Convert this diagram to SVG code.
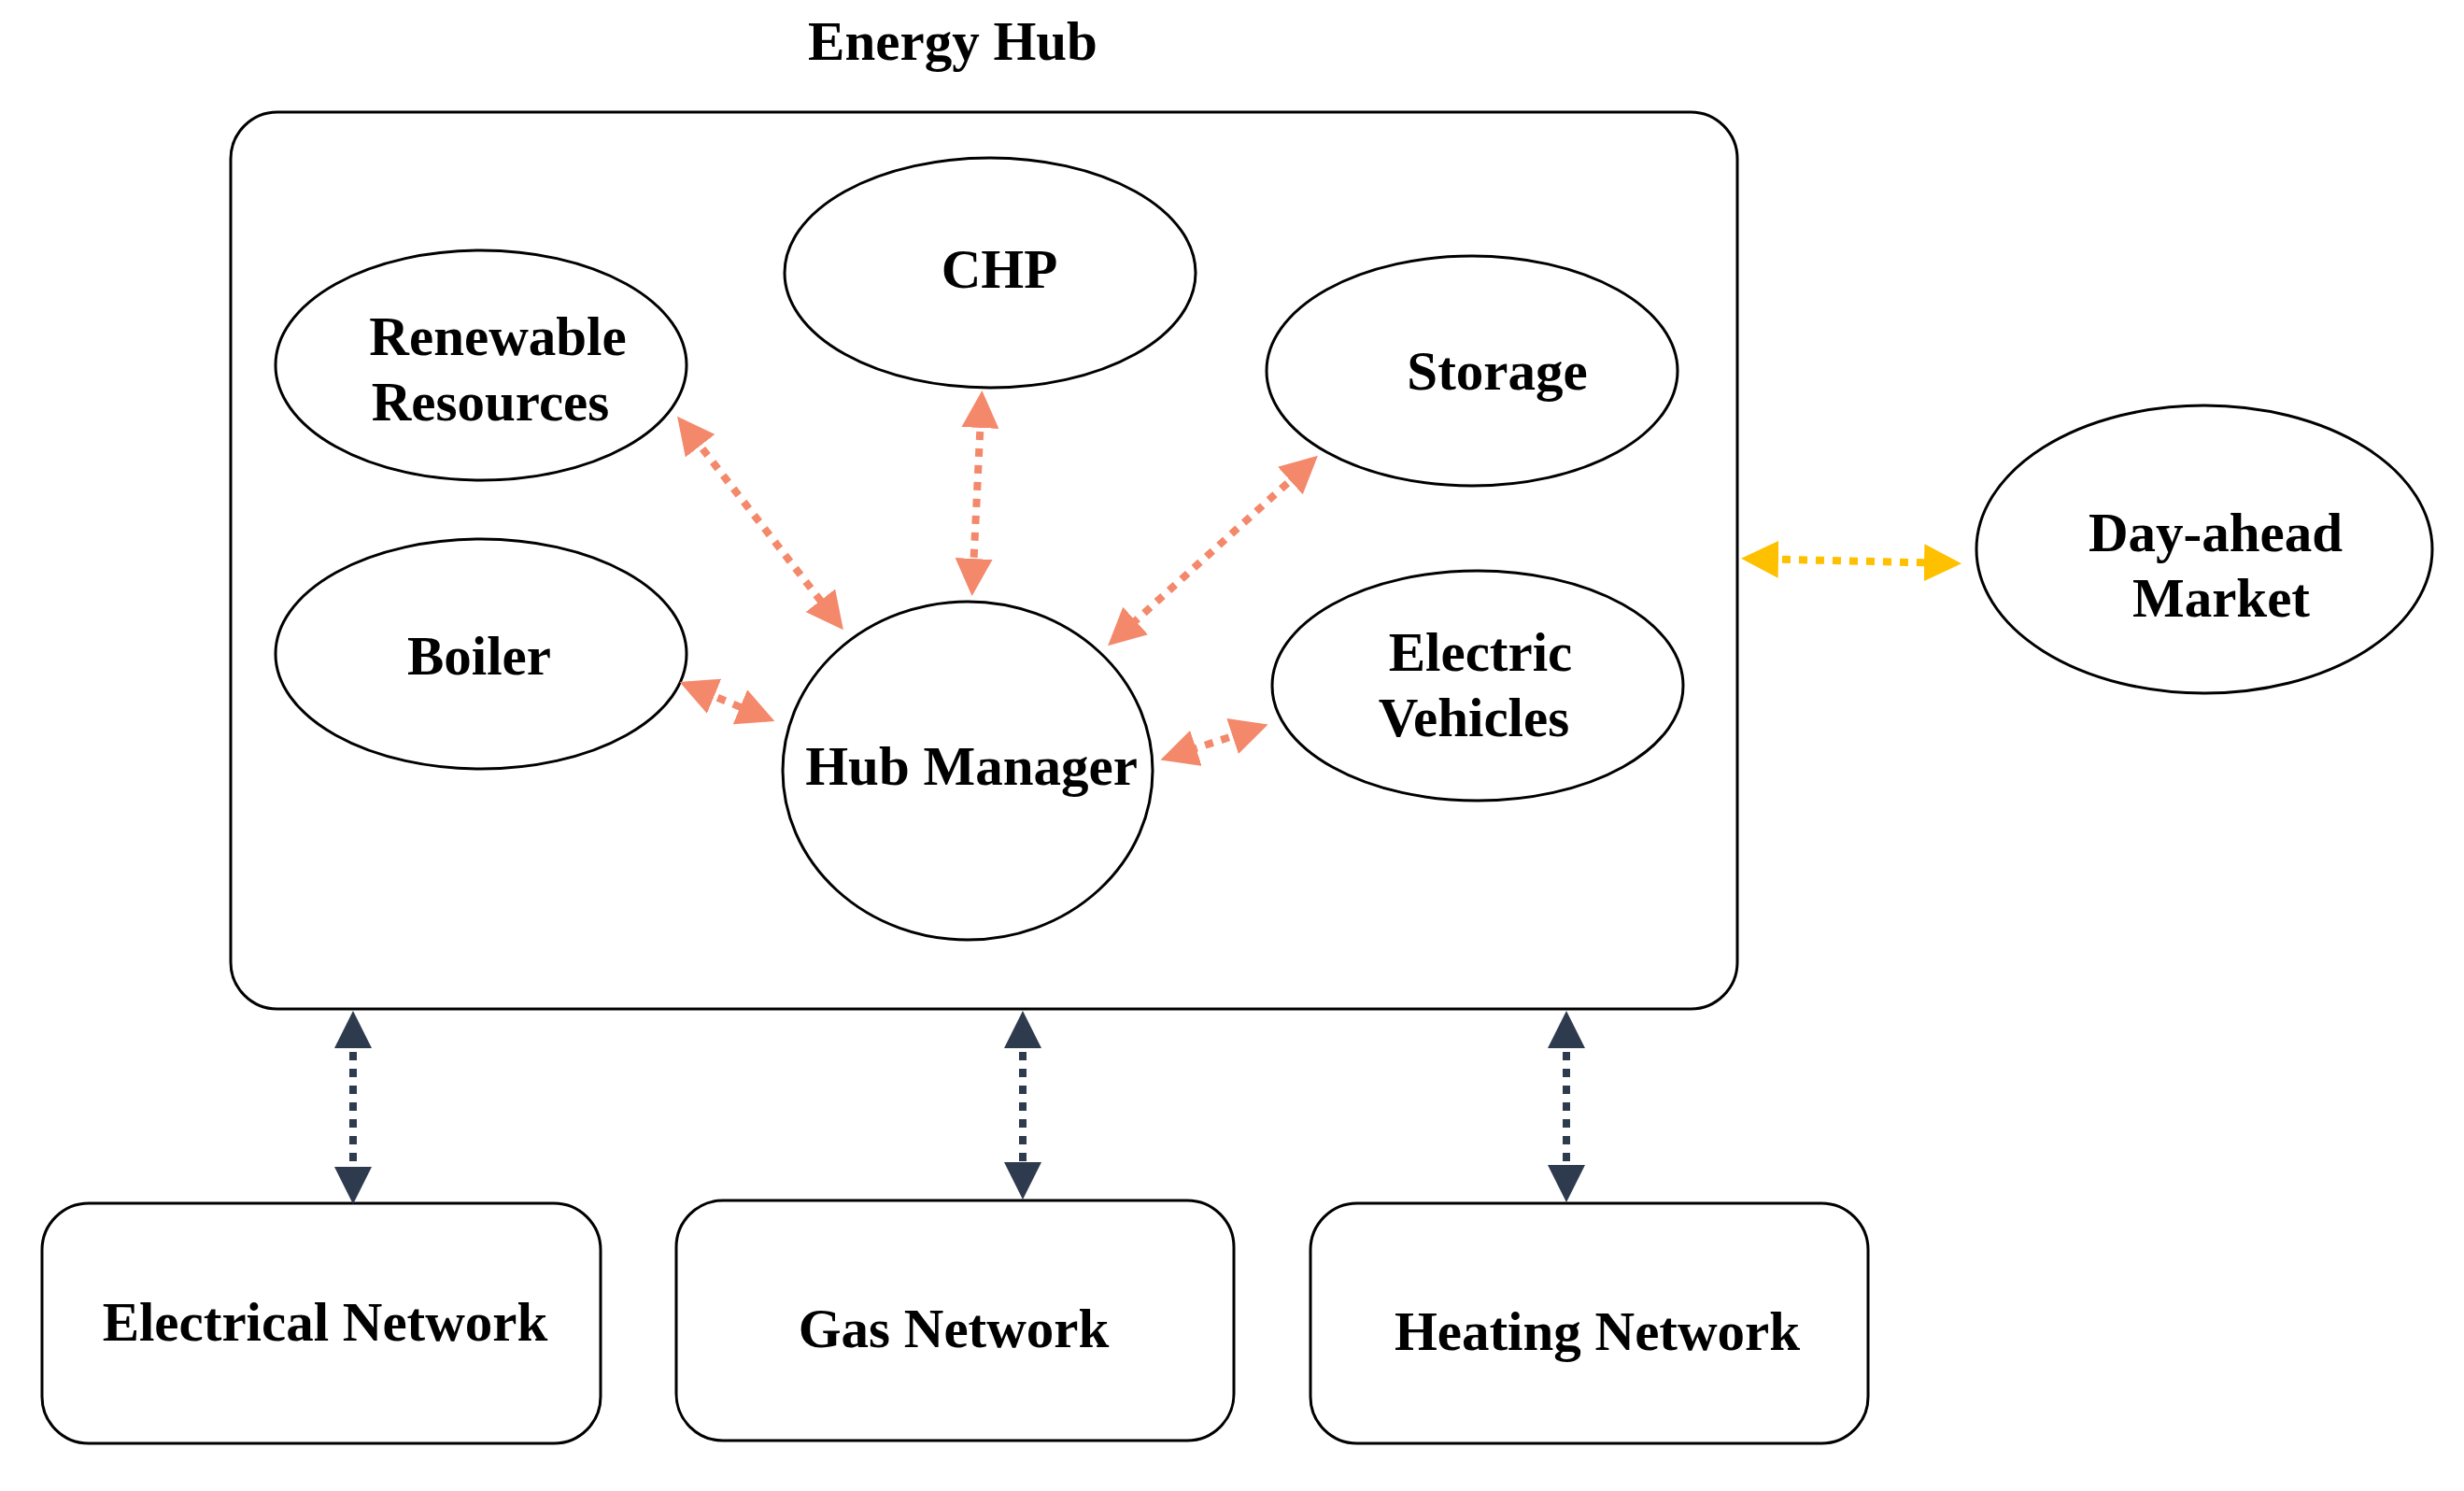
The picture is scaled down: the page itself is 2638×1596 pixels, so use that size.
<svg xmlns="http://www.w3.org/2000/svg" width="2638" height="1596" viewBox="0 0 2638 1596">
<style>
.n{fill:#fff;stroke:#000;stroke-width:3}
text{font-family:"Liberation Serif",serif;font-weight:bold;font-size:59px;fill:#000;text-anchor:middle}
.o{stroke:#f4886a;stroke-width:8;stroke-dasharray:9 9;fill:none}
.y{stroke:#ffc000;stroke-width:8;stroke-dasharray:9 9;fill:none}
.d{stroke:#2e3a4e;stroke-width:8;stroke-dasharray:9 9;fill:none}
</style>
<defs>
<marker id="mo" markerWidth="5" markerHeight="5" refX="4" refY="2.5" orient="auto-start-reverse"><path d="M0,0L5,2.5L0,5z" fill="#f4886a"/></marker>
<marker id="my" markerWidth="5" markerHeight="5" refX="4" refY="2.5" orient="auto-start-reverse"><path d="M0,0L5,2.5L0,5z" fill="#ffc000"/></marker>
<marker id="md" markerWidth="5" markerHeight="5" refX="4" refY="2.5" orient="auto-start-reverse"><path d="M0,0L5,2.5L0,5z" fill="#2e3a4e"/></marker>
</defs>
<text x="1020" y="64">Energy Hub</text>
<g id="hub"><rect class="n" x="247" y="120" width="1613" height="960" rx="50"/></g>
<g id="chp"><ellipse class="n" cx="1060" cy="292" rx="220" ry="123"/><text x="1070" y="308">CHP</text></g>
<g id="renewable"><ellipse class="n" cx="515" cy="391" rx="220" ry="123"/><text x="533" y="380">Renewable</text><text x="525" y="450">Resources</text></g>
<g id="boiler"><ellipse class="n" cx="515" cy="700" rx="220" ry="123"/><text x="513" y="722">Boiler</text></g>
<g id="storage"><ellipse class="n" cx="1576" cy="397" rx="220" ry="123"/><text x="1603" y="417">Storage</text></g>
<g id="ev"><ellipse class="n" cx="1582" cy="734" rx="220" ry="123"/><text x="1585" y="718">Electric</text><text x="1578" y="788">Vehicles</text></g>
<g id="manager"><ellipse class="n" cx="1036" cy="825" rx="198" ry="181"/><text x="1040" y="840">Hub Manager</text></g>
<g id="market"><ellipse class="n" cx="2360" cy="588" rx="244" ry="154"/><text x="2372" y="590">Day-ahead</text><text x="2378" y="660">Market</text></g>
<g id="electrical"><rect class="n" x="45" y="1288" width="598" height="257" rx="50"/><text x="348" y="1435">Electrical Network</text></g>
<g id="gas"><rect class="n" x="724" y="1285" width="597" height="257" rx="50"/><text x="1021" y="1442">Gas Network</text></g>
<g id="heating"><rect class="n" x="1403" y="1288" width="597" height="257" rx="50"/><text x="1710" y="1445">Heating Network</text></g>
<g id="connectors">
<line class="o" x1="730" y1="452" x2="898" y2="668" marker-start="url(#mo)" marker-end="url(#mo)"/>
<line class="o" x1="1051" y1="426" x2="1041" y2="630" marker-start="url(#mo)" marker-end="url(#mo)"/>
<line class="o" x1="1405" y1="493" x2="1192" y2="686" marker-start="url(#mo)" marker-end="url(#mo)"/>
<line class="o" x1="735" y1="733" x2="822" y2="769" marker-start="url(#mo)" marker-end="url(#mo)"/>
<line class="o" x1="1350" y1="778" x2="1250" y2="811" marker-start="url(#mo)" marker-end="url(#mo)"/>
<line class="y" x1="1872" y1="598" x2="2092" y2="603" marker-start="url(#my)" marker-end="url(#my)"/>
<line class="d" x1="378" y1="1090" x2="378" y2="1281" marker-start="url(#md)" marker-end="url(#md)"/>
<line class="d" x1="1095" y1="1090" x2="1095" y2="1276" marker-start="url(#md)" marker-end="url(#md)"/>
<line class="d" x1="1677" y1="1090" x2="1677" y2="1279" marker-start="url(#md)" marker-end="url(#md)"/>
</g>
</svg>
